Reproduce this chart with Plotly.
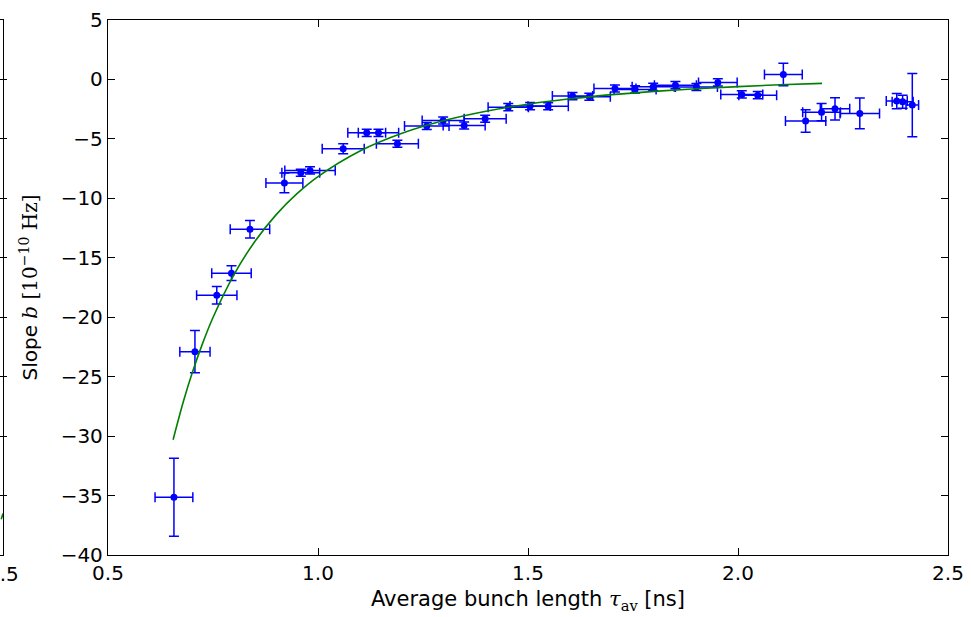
import plotly.graph_objects as go

# Measured points: average bunch length (ns), slope b (1e-10 Hz), and errors
tau_av = [0.657, 0.707, 0.759, 0.794, 0.838, 0.920, 0.959, 0.981, 1.060, 1.116,
          1.144, 1.189, 1.259, 1.298, 1.348, 1.398, 1.453, 1.505, 1.548, 1.606,
          1.646, 1.707, 1.755, 1.798, 1.851, 1.901, 1.952, 2.009, 2.047, 2.108,
          2.161, 2.199, 2.231, 2.290, 2.378, 2.392, 2.415]
slope_b = [-35.15, -22.9, -18.15, -16.3, -12.6, -8.7, -7.85, -7.65, -5.83, -4.49,
           -4.49, -5.41, -3.92, -3.45, -3.87, -3.31, -2.33, -2.24, -2.25, -1.40,
           -1.46, -0.76, -0.84, -0.62, -0.48, -0.64, -0.25, -1.26, -1.32, 0.42,
           -3.5, -2.75, -2.47, -2.86, -1.82, -1.88, -2.16]
tau_err = [0.045, 0.036, 0.048, 0.047, 0.047, 0.044, 0.045, 0.06, 0.05, 0.045,
           0.048, 0.05, 0.053, 0.05, 0.05, 0.05, 0.048, 0.048, 0.048, 0.048,
           0.05, 0.05, 0.05, 0.05, 0.05, 0.05, 0.046, 0.05, 0.045, 0.045,
           0.048, 0.045, 0.035, 0.047, 0.025, 0.025, 0.015]
slope_err = [3.28, 1.78, 0.73, 0.62, 0.73, 0.84, 0.3, 0.3, 0.42, 0.3,
             0.3, 0.3, 0.3, 0.3, 0.3, 0.3, 0.3, 0.3, 0.3, 0.3,
             0.3, 0.3, 0.3, 0.3, 0.3, 0.3, 0.3, 0.3, 0.3, 0.94,
             0.95, 0.73, 0.94, 1.29, 0.64, 0.55, 2.66]

# Fit curve, values
fit_tau = [0.655, 0.68, 0.70, 0.725, 0.75, 0.80, 0.85, 0.90, 0.95, 1.00, 1.10,
           1.20, 1.30, 1.40, 1.50, 1.60, 1.70, 1.80, 1.90, 2.00, 2.10, 2.20]
fit_b = [-30.3, -27.03, -24.74, -22.22, -20.02, -16.41, -13.61, -11.39, -9.61,
         -8.17, -6.02, -4.53, -3.46, -2.67, -2.08, -1.63, -1.28, -1.0, -0.78,
         -0.60, -0.45, -0.33]

# Edge of the neighbouring panel (cropped at the left of the picture)
left_fit_tau = [2.47, 2.50]
left_fit_b = [-37.0, -36.5]

x_ticks = [0.5, 1.0, 1.5, 2.0, 2.5]
y_ticks = [5, 0, -5, -10, -15, -20, -25, -30, -35, -40]

BLUE = "#0000ff"
GREEN = "#008000"
FONT = "DejaVu Sans"
FS = 20
FS_TITLE = 21

W, H = 971, 617
ML, MR, MT, MB = 0, 23, 20, 62
plot_w = W - ML - MR
x_left_px = 108

fig = go.Figure()

fig.add_trace(go.Scatter(
    x=tau_av, y=slope_b, mode="markers",
    marker=dict(color=BLUE, size=7),
    error_x=dict(type="data", array=tau_err, color=BLUE, thickness=1.5, width=5),
    error_y=dict(type="data", array=slope_err, color=BLUE, thickness=1.5, width=5),
    showlegend=False, xaxis="x", yaxis="y",
))
fig.add_trace(go.Scatter(
    x=fit_tau, y=fit_b, mode="lines", line=dict(color=GREEN, width=1.6, shape="spline"),
    showlegend=False, xaxis="x", yaxis="y",
))
fig.add_trace(go.Scatter(
    x=left_fit_tau, y=left_fit_b, mode="lines", line=dict(color=GREEN, width=1.6),
    showlegend=False, xaxis="x2", yaxis="y2", cliponaxis=True,
))

axis_common = dict(
    showline=True, linecolor="black", linewidth=1.3, mirror="ticks",
    ticks="inside", ticklen=7, tickwidth=1.1, tickcolor="black",
    showgrid=False, zeroline=False, automargin=False,
    tickfont=dict(family=FONT, size=FS, color="black"),
)

fig.update_layout(
    width=W, height=H,
    margin=dict(l=ML, r=MR, t=MT, b=MB, autoexpand=False),
    paper_bgcolor="white", plot_bgcolor="white",
    xaxis=dict(
        domain=[x_left_px / plot_w, 1], range=[0.5, 2.5],
        tickvals=x_ticks, ticktext=[f"{v:.1f}" for v in x_ticks],
        anchor="y",
        title=dict(
            text="Average bunch length <span style='font-family:DejaVu Serif'><i>τ</i><sub>av</sub></span> [ns]",
            font=dict(family=FONT, size=FS_TITLE, color="black"), standoff=7),
        **axis_common,
    ),
    yaxis=dict(
        domain=[0, 1], range=[-40, 5], anchor="x",
        tickvals=y_ticks, ticktext=[str(v).replace("-", "−") for v in y_ticks],
        title=dict(
            text="Slope <span style='font-family:DejaVu Serif'><i>b</i> [10<sup>−10</sup> Hz]</span>",
            font=dict(family=FONT, size=FS, color="black"), standoff=17),
        **axis_common,
    ),
    xaxis2=dict(
        domain=[0, 3 / plot_w], range=[2.45, 2.5], anchor="y2",
        tickvals=[2.5], showticklabels=False,
        **axis_common,
    ),
    yaxis2=dict(
        domain=[0, 1], range=[-40, 5], anchor="x2",
        tickvals=y_ticks, showticklabels=False,
        **axis_common,
    ),
    annotations=[dict(
        text="2.5", xref="x2", x=2.5, yref="paper", y=0,
        xanchor="center", yanchor="top", xshift=0, yshift=-5,
        showarrow=False, font=dict(family=FONT, size=FS, color="black"),
    )],
)

fig.write_html("out.html")
